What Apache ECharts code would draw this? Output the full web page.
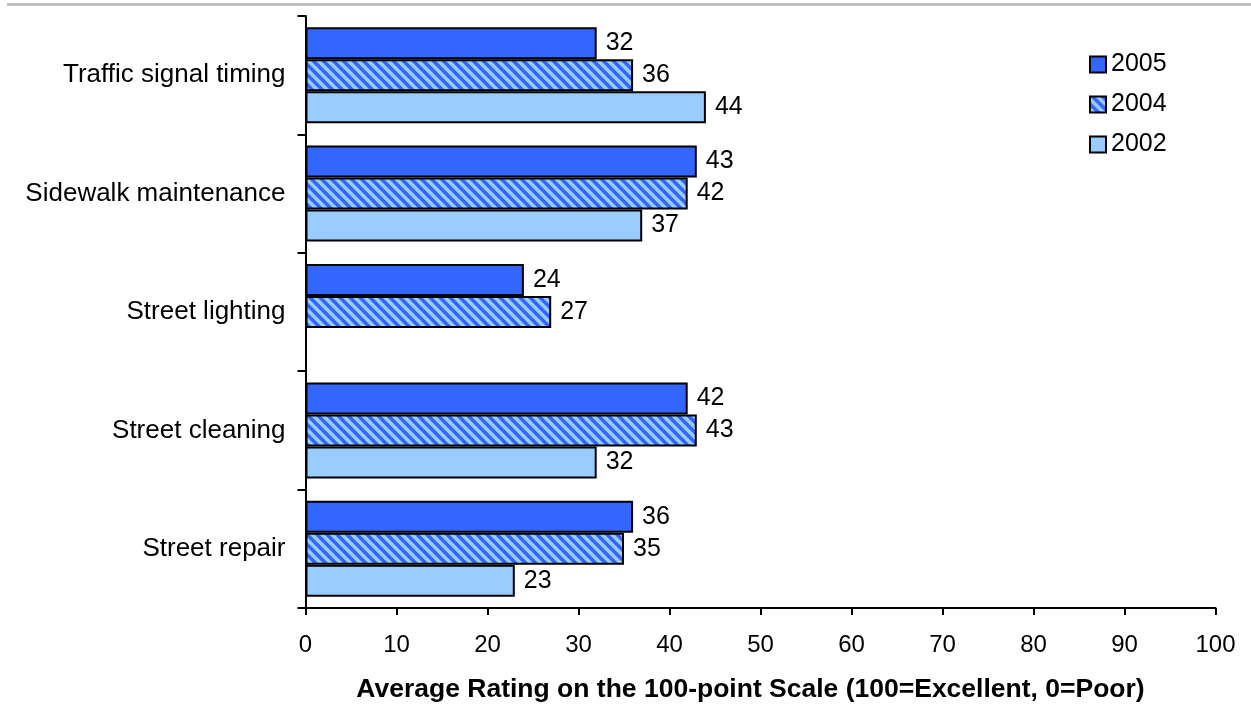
<!DOCTYPE html>
<html>
<head>
<meta charset="utf-8">
<title>Average Rating of Street Services</title>
<script src="https://cdn.jsdelivr.net/npm/echarts@6/dist/echarts.min.js"></script>
<style>
  html, body { margin: 0; padding: 0; background: #ffffff; }
  #chart { width: 1251px; height: 708px; }
</style>
</head>
<body>
<div id="chart"></div>
<script>
// Services rated, listed top to bottom
const categories = [
  'Traffic signal timing',
  'Sidewalk maintenance',
  'Street lighting',
  'Street cleaning',
  'Street repair'
];

// Average rating per survey year ('-' = not asked that year)
const values2005 = [32, 43, 24, 42, 36];
const values2004 = [36, 42, 27, 43, 35];
const values2002 = [44, 37, '-', 32, 23];

const xTicks = [0, 10, 20, 30, 40, 50, 60, 70, 80, 90, 100];

const FONT = "'Liberation Sans', Arial, Helvetica, sans-serif";
const DARK_BLUE = '#3366ff';
const LIGHT_BLUE = '#99ccff';

// Wide downward-diagonal hatch tile (blue stripes on light blue)
function makeHatch() {
  const size = 10;
  const c = document.createElement('canvas');
  c.width = size; c.height = size;
  const ctx = c.getContext('2d');
  const img = ctx.createImageData(size, size);
  const fg = [0x33, 0x66, 0xff], bg = [0x99, 0xcc, 0xff];
  for (let y = 0; y < size; y++) {
    for (let x = 0; x < size; x++) {
      const d = (((x - y) % size) + size) % size;
      // 4px core stripe with soft 1px edges
      let t = 0;
      if (d >= 1 && d <= 4) t = 1;
      else if (d === 0 || d === 5) t = 0.5;
      const i = (y * size + x) * 4;
      for (let k = 0; k < 3; k++) img.data[i + k] = Math.round(bg[k] + (fg[k] - bg[k]) * t);
      img.data[i + 3] = 255;
    }
  }
  ctx.putImageData(img, 0, 0);
  return c;
}

const hatch = { image: makeHatch(), repeat: 'repeat' };

const chart = echarts.init(document.getElementById('chart'), null, { renderer: 'canvas' });

function barSeries(name, data, fill) {
  return {
    name: name,
    type: 'bar',
    data: data,
    barWidth: 32,
    barGap: '0%',
    itemStyle: { color: fill, borderColor: '#000', borderWidth: 2 },
    label: {
      show: true,
      position: 'right',
      distance: 9,
      color: '#000',
      fontFamily: FONT,
      fontSize: 25
    },
    emphasis: { disabled: true },
    animation: false
  };
}

chart.setOption({
  backgroundColor: '#ffffff',
  animation: false,
  textStyle: { fontFamily: FONT },
  graphic: [{
    type: 'rect',
    shape: { x: 7, y: 3, width: 1244, height: 3 },
    style: { fill: '#c0c0c0' },
    silent: true
  }],
  grid: { left: 305.5, top: 16, width: 910, height: 595, containLabel: false },
  legend: {
    orient: 'vertical',
    left: 1089,
    top: 52,
    padding: 0,
    icon: 'rect',
    itemWidth: 16,
    itemHeight: 16,
    itemGap: 15,
    textStyle: { fontFamily: FONT, fontSize: 25, color: '#000' },
    itemStyle: { borderColor: '#000', borderWidth: 2 },
    data: ['2005', '2004', '2002']
  },
  xAxis: {
    type: 'value',
    min: xTicks[0],
    max: xTicks[xTicks.length - 1],
    interval: xTicks[1] - xTicks[0],
    name: 'Average Rating on the 100-point Scale (100=Excellent, 0=Poor)',
    nameLocation: 'middle',
    nameGap: 68,
    nameTextStyle: {
      fontFamily: FONT, fontSize: 26.5, fontWeight: 'bold', color: '#000',
      padding: [0, 20, 0, 0]
    },
    axisLine: { show: true, lineStyle: { color: '#000', width: 2 } },
    axisTick: { show: true, length: 7, lineStyle: { color: '#000', width: 2 } },
    axisLabel: { fontFamily: FONT, fontSize: 24, color: '#000', margin: 25 },
    splitLine: { show: false }
  },
  yAxis: {
    type: 'category',
    data: categories,
    inverse: true,
    axisLine: { show: true, lineStyle: { color: '#000', width: 2 } },
    axisTick: { show: true, length: 8, lineStyle: { color: '#000', width: 2 } },
    axisLabel: { fontFamily: FONT, fontSize: 26, color: '#000', margin: 20 },
    splitLine: { show: false }
  },
  series: [
    barSeries('2005', values2005, DARK_BLUE),
    barSeries('2004', values2004, hatch),
    barSeries('2002', values2002, LIGHT_BLUE)
  ]
});
</script>
</body>
</html>
